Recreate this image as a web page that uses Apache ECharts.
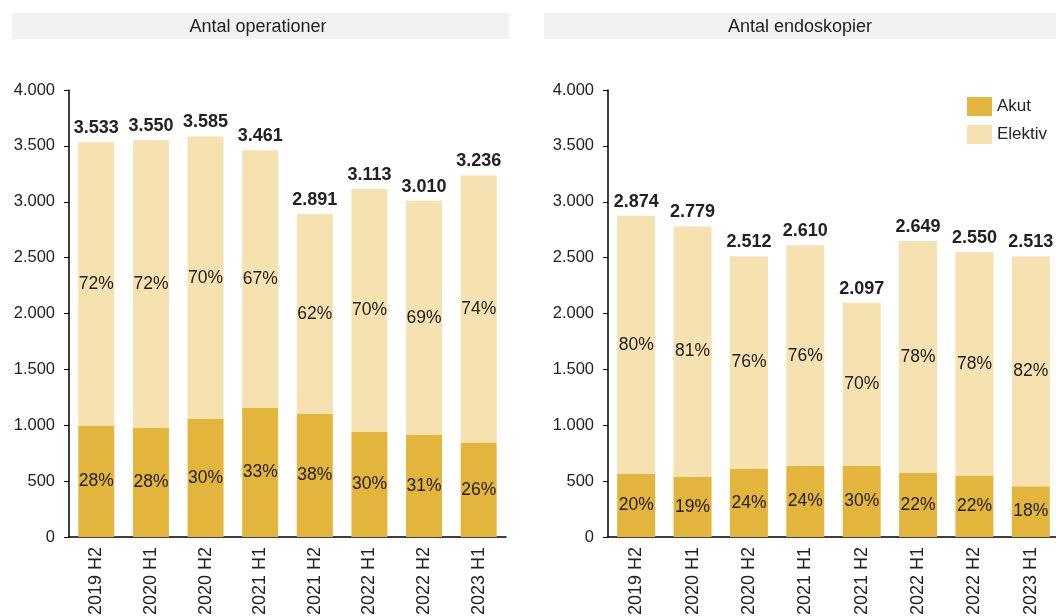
<!DOCTYPE html>
<html lang="sv">
  <head>
    <meta charset="UTF-8" />
    <title>Antal operationer och endoskopier</title>
    <style type="text/css">
      body {
        margin: 0;
        background-color: #fff;
      }

      #main {
        width: 1056px;
        height: 616px;
      }
    </style>
  </head>
  <body>
    <div id="main"></div>
    <script src="https://cdn.jsdelivr.net/npm/echarts@6/dist/echarts.min.js"></script>
    <script type="text/javascript">
      var categories = ["2019 H2", "2020 H1", "2020 H2", "2021 H1", "2021 H2", "2022 H1", "2022 H2", "2023 H1"];

      // Antal operationer
      var opTotal = [3533, 3550, 3585, 3461, 2891, 3113, 3010, 3236];
      var opAkut = [995, 975, 1055, 1155, 1100, 940, 915, 845];
      var opAkutPct = [28, 28, 30, 33, 38, 30, 31, 26];

      // Antal endoskopier
      var enTotal = [2874, 2779, 2512, 2610, 2097, 2649, 2550, 2513];
      var enAkut = [565, 540, 610, 635, 635, 575, 550, 455];
      var enAkutPct = [20, 19, 24, 24, 30, 22, 22, 18];

      var yTicks = [0, 500, 1000, 1500, 2000, 2500, 3000, 3500, 4000];

      var akutColor = "#e4b53c";
      var elektivColor = "#f5e2b0";
      var font = "'Liberation Sans', Arial, sans-serif";

      function fmt(v) {
        return String(v).replace(/\B(?=(\d{3})+(?!\d))/g, ".");
      }

      var chartDom = document.getElementById("main");
      var myChart = echarts.init(chartDom);
      var option;

      function xAxis(grid) {
        return {
          type: "category",
          gridIndex: grid,
          data: categories,
          axisLine: { lineStyle: { color: "#000", width: 1.5 } },
          axisTick: { show: false },
          axisLabel: { rotate: 90, fontSize: 18, color: "#222", fontFamily: font, margin: 10 },
        };
      }

      function yAxis(grid) {
        return {
          type: "value",
          gridIndex: grid,
          min: yTicks[0],
          max: yTicks[yTicks.length - 1],
          interval: yTicks[1] - yTicks[0],
          splitLine: { show: false },
          axisLine: { show: true, lineStyle: { color: "#000", width: 1.5 } },
          axisTick: { show: true, length: 5, lineStyle: { color: "#000" } },
          axisLabel: { fontSize: 16.5, color: "#222", fontFamily: font, margin: 14, formatter: fmt },
        };
      }

      function series(idx, total, akut, pct, barW) {
        return [
          {
            name: "Akut",
            type: "bar",
            stack: "s" + idx,
            xAxisIndex: idx,
            yAxisIndex: idx,
            barWidth: barW,
            itemStyle: { color: akutColor },
            data: akut,
            label: {
              show: true,
              position: "inside",
              fontSize: 17.5,
              color: "#222",
              fontFamily: font,
              formatter: function (p) {
                return pct[p.dataIndex] + "%";
              },
            },
          },
          {
            name: "Elektiv",
            type: "bar",
            stack: "s" + idx,
            xAxisIndex: idx,
            yAxisIndex: idx,
            barWidth: barW,
            itemStyle: { color: elektivColor },
            data: total.map(function (t, i) {
              return t - akut[i];
            }),
            label: {
              show: true,
              position: "inside",
              fontSize: 17.5,
              color: "#222",
              fontFamily: font,
              formatter: function (p) {
                return 100 - pct[p.dataIndex] + "%";
              },
            },
          },
          {
            // total labels on top of the stack
            type: "bar",
            stack: "s" + idx,
            xAxisIndex: idx,
            yAxisIndex: idx,
            barWidth: barW,
            itemStyle: { color: "transparent" },
            silent: true,
            data: total.map(function () {
              return 0;
            }),
            label: {
              show: true,
              position: "top",
              distance: 5,
              fontSize: 18,
              fontWeight: "bold",
              color: "#222",
              fontFamily: font,
              formatter: function (p) {
                return fmt(total[p.dataIndex]);
              },
            },
          },
        ];
      }

      option = {
        animation: false,
        textStyle: { fontFamily: font },
        graphic: [
          { type: "rect", shape: { x: 12, y: 13, width: 497, height: 26 }, style: { fill: "#f2f2f2" } },
          {
            type: "text",
            x: 258,
            y: 27,
            style: { text: "Antal operationer", font: "18px " + font, fill: "#222", align: "center", verticalAlign: "middle" },
          },
          { type: "rect", shape: { x: 544, y: 13, width: 512, height: 26 }, style: { fill: "#f2f2f2" } },
          {
            type: "text",
            x: 800,
            y: 27,
            style: { text: "Antal endoskopier", font: "18px " + font, fill: "#222", align: "center", verticalAlign: "middle" },
          },
        ],
        legend: {
          data: ["Akut", "Elektiv"],
          orient: "vertical",
          left: 967,
          top: 97,
          padding: 0,
          itemWidth: 25,
          itemHeight: 19,
          itemGap: 9,
          textStyle: { fontSize: 17, color: "#222", fontFamily: font },
          icon: "rect",
        },
        grid: [
          { left: 69, right: 550, top: 90, bottom: 79, outerBoundsMode: "none" },
          { left: 608, right: -3, top: 90, bottom: 79, outerBoundsMode: "none" },
        ],
        xAxis: [xAxis(0), xAxis(1)],
        yAxis: [yAxis(0), yAxis(1)],
        series: series(0, opTotal, opAkut, opAkutPct, 36).concat(series(1, enTotal, enAkut, enAkutPct, 38)),
      };

      myChart.setOption(option);
    </script>
  </body>
</html>
